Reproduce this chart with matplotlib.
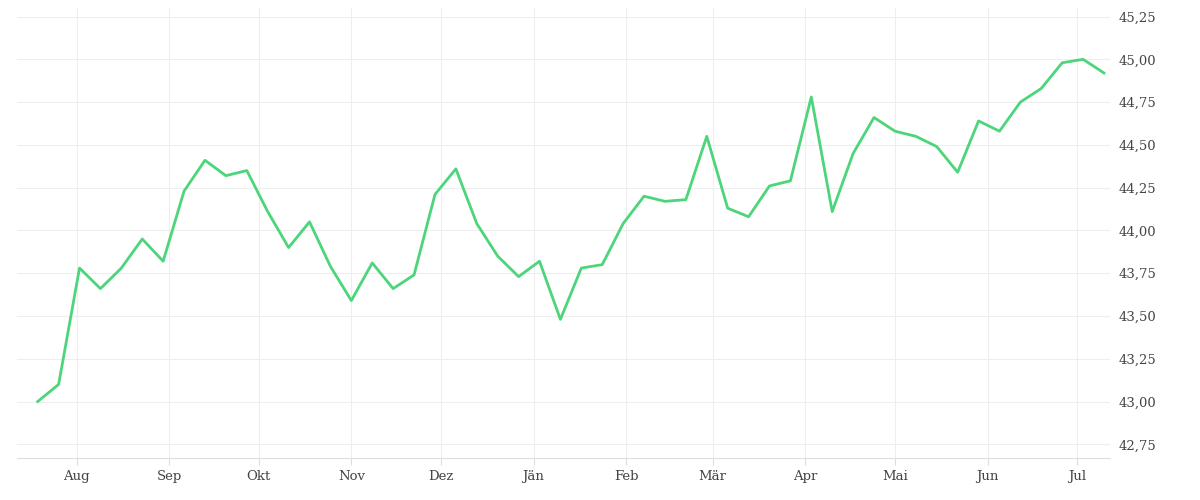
import matplotlib
matplotlib.use("Agg")
import matplotlib.pyplot as plt
import matplotlib.ticker as mticker
import pandas as pd

values = [43.00,43.10,43.78,43.66,43.78,43.95,43.82,44.23,44.41,44.32,44.35,44.11,
          43.90,44.05,43.79,43.59,43.81,43.66,43.74,44.21,44.36,44.04,43.85,43.73,
          43.82,43.48,43.78,43.80,44.04,44.20,44.17,44.18,44.55,44.13,44.08,44.26,
          44.29,44.78,44.11,44.45,44.66,44.58,44.55,44.49,44.34,44.64,44.58,44.75,
          44.83,44.98,45.00,44.92]
dates = pd.date_range("2023-07-19", periods=len(values), freq="7D")
month_labels = ["Aug","Sep","Okt","Nov","Dez","Jän","Feb","Mär","Apr","Mai","Jun","Jul"]
month_ticks = pd.date_range("2023-08-01", periods=12, freq="MS")
yticks = [42.75,43.00,43.25,43.50,43.75,44.00,44.25,44.50,44.75,45.00,45.25]

plt.rcParams['font.family'] = ['DejaVu Serif']
fig = plt.figure(figsize=(12,5), dpi=100)
ax = fig.add_axes([0.014, 0.084, 0.911, 0.9])
ax.plot(dates, values, color="#4cd57a", lw=2.0)
ax.set_xlim(pd.Timestamp("2023-07-12"), pd.Timestamp("2024-07-12"))
ax.set_ylim(42.67, 45.30)
ax.yaxis.tick_right()
ax.set_yticks(yticks)
ax.yaxis.set_major_formatter(mticker.FuncFormatter(lambda v,p: f"{v:.2f}".replace(".",",")))
ax.set_xticks(month_ticks)
ax.set_xticklabels(month_labels)
ax.grid(True, color="#eeeeee", lw=0.8)
for s in ["top","left","right"]:
    ax.spines[s].set_visible(False)
ax.spines["bottom"].set_color("#dddddd")
ax.tick_params(axis="both", colors="#dddddd", labelcolor="#444444", labelsize=9.5, length=5)
ax.tick_params(axis="y", length=0, pad=6)
fig.savefig("out.png")
